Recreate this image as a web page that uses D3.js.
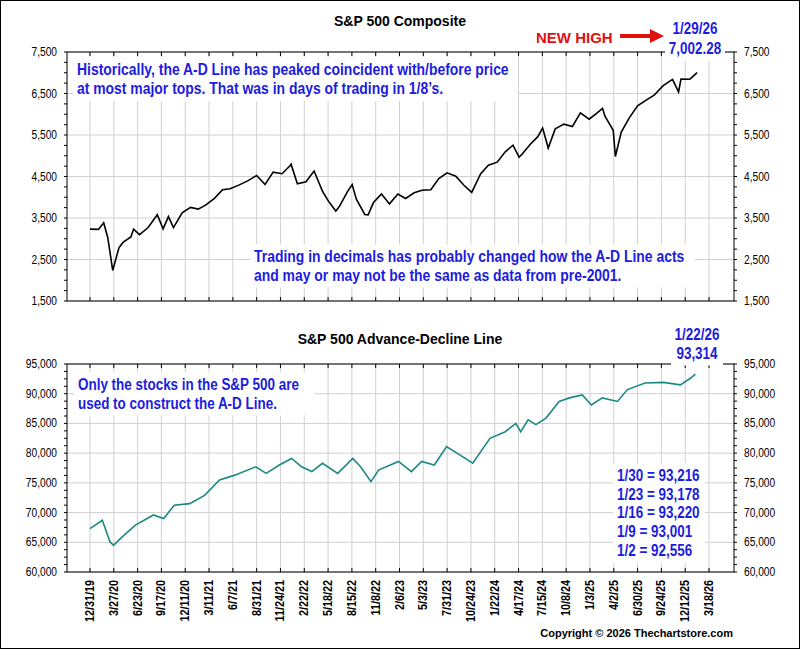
<!DOCTYPE html>
<html><head><meta charset="utf-8">
<script src="https://cdn.jsdelivr.net/npm/d3@7"></script>
<style>body{margin:0;background:#fff}svg{display:block}</style>
</head><body>
<script>
const spxDates=["2019-12-31","2020-01-31","2020-02-19","2020-03-05","2020-03-23","2020-04-15","2020-04-30","2020-05-29","2020-06-08","2020-06-30","2020-07-31","2020-09-02","2020-09-23","2020-10-12","2020-10-30","2020-11-30","2020-12-31","2021-01-29","2021-02-26","2021-03-31","2021-04-30","2021-05-28","2021-06-30","2021-07-30","2021-08-31","2021-09-30","2021-10-29","2021-11-30","2021-12-31","2022-01-03","2022-01-27","2022-02-28","2022-03-29","2022-04-29","2022-05-20","2022-06-16","2022-06-30","2022-07-29","2022-08-16","2022-08-31","2022-09-30","2022-10-12","2022-10-31","2022-11-30","2022-12-30","2023-01-31","2023-02-28","2023-03-31","2023-04-28","2023-05-31","2023-06-30","2023-07-31","2023-08-31","2023-09-29","2023-10-27","2023-11-30","2023-12-29","2024-01-31","2024-02-29","2024-03-28","2024-04-19","2024-04-30","2024-05-31","2024-06-28","2024-07-16","2024-08-05","2024-08-30","2024-09-30","2024-10-31","2024-11-29","2024-12-31","2025-01-31","2025-02-19","2025-02-28","2025-03-31","2025-04-08","2025-04-30","2025-05-30","2025-06-30","2025-07-31","2025-08-29","2025-09-30","2025-10-31","2025-11-20","2025-11-28","2025-12-31","2026-01-29"];
const spxValues=[3231,3226,3386,3024,2237,2783,2912,3044,3232,3100,3271,3580,3237,3534,3270,3622,3756,3714,3811,3973,4181,4204,4298,4395,4523,4307,4605,4567,4766,4796,4326,4374,4632,4132,3901,3667,3785,4130,4305,3955,3586,3577,3872,4080,3840,4077,3970,4109,4169,4180,4450,4589,4508,4288,4117,4568,4770,4846,5096,5254,4967,5036,5278,5460,5667,5186,5648,5762,5705,6032,5882,6041,6144,5955,5612,4982,5569,5912,6205,6339,6460,6688,6840,6538,6849,6845,7002];
const adDates=["2019-12-31","2020-02-14","2020-03-13","2020-03-26","2020-04-29","2020-06-15","2020-08-19","2020-09-25","2020-11-02","2020-12-28","2021-02-22","2021-04-19","2021-06-14","2021-08-28","2021-10-04","2021-11-20","2022-01-05","2022-02-12","2022-03-21","2022-04-28","2022-06-23","2022-08-18","2022-09-15","2022-10-22","2022-11-19","2023-02-02","2023-03-21","2023-04-27","2023-06-13","2023-07-29","2023-09-14","2023-10-31","2024-01-04","2024-02-29","2024-04-07","2024-04-25","2024-05-23","2024-06-21","2024-07-28","2024-09-13","2024-10-20","2024-12-06","2025-01-08","2025-02-18","2025-04-16","2025-05-23","2025-07-27","2025-10-01","2025-11-26","2026-01-02","2026-01-22"];
const adValues=[67300,68700,65100,64500,66000,67900,69600,69000,71250,71500,72900,75500,76300,77700,76600,78000,79100,77700,76900,78300,76600,79100,77700,75200,77150,78600,76900,78600,78000,81100,79700,78300,82500,83600,85000,83600,85600,84800,85900,88700,89300,89800,88100,89300,88700,90700,91800,91900,91500,92600,93314];
const tickLabels=["12/31/19","3/27/20","6/23/20","9/17/20","12/11/20","3/11/21","6/7/21","8/31/21","11/24/21","2/22/22","5/18/22","8/15/22","11/8/22","2/6/23","5/3/23","7/31/23","10/24/23","1/22/24","4/17/24","7/15/24","10/8/24","1/3/25","4/2/25","6/30/25","9/24/25","12/12/25","3/18/26"];
const spxTicks=[1500,2500,3500,4500,5500,6500,7500];
const adTicks=[60000,65000,70000,75000,80000,85000,90000,95000];
const adNotes=["1/30 = 93,216","1/23 = 93,178","1/16 = 93,220","1/9 = 93,001","1/2 = 92,556"];

const W=800,H=649,L=67,R=734;
const FONT="'Liberation Sans',Arial,sans-serif";
const svg=d3.select("body").append("svg").attr("width",W).attr("height",H).style("font-family",FONT);
svg.append("rect").attr("x",0.5).attr("y",0.5).attr("width",W-1).attr("height",H-1).attr("fill","#fff").attr("stroke","#000");
const pd=d3.timeParse("%Y-%m-%d"), pt=d3.timeParse("%m/%d/%y");
const tickDates=tickLabels.map(pt);
const x=d3.scaleLinear().domain([0,tickDates.length-1]).range([90,709]);
function xd(d){const t=+d;let i=0;while(i<tickDates.length-2&&t>+tickDates[i+1])i++;
 const a=+tickDates[i],b=+tickDates[i+1];return x(i+(t-a)/(b-a));}
function narrow(sel,f){sel.each(function(){const n=this.getComputedTextLength();this.setAttribute("textLength",n*f);this.setAttribute("lengthAdjust","spacingAndGlyphs");});}

function panel(top,bot,domain,ticks,minor,dates,vals,color,title,titleY){
 const y=d3.scaleLinear().domain(domain).range([bot,top]);
 const g=svg.append("g");
 g.selectAll(".hg").data(ticks).join("line").attr("x1",L).attr("x2",R).attr("y1",d=>y(d)).attr("y2",d=>y(d)).attr("stroke","#d0d0d0");
 g.selectAll(".vg").data(tickDates).join("line").attr("x1",d=>xd(d)).attr("x2",d=>xd(d)).attr("y1",top).attr("y2",bot).attr("stroke","#d0d0d0");
 g.append("rect").attr("x",L).attr("y",top).attr("width",R-L).attr("height",bot-top).attr("fill","none").attr("stroke","#000");
 const mt=d3.range(domain[0],domain[1]+1,minor);
 g.selectAll(".ml").data(mt).join("line").attr("x1",L-3).attr("x2",L).attr("y1",d=>y(d)).attr("y2",d=>y(d)).attr("stroke","#000");
 g.selectAll(".mr").data(mt).join("line").attr("x1",R).attr("x2",R+3).attr("y1",d=>y(d)).attr("y2",d=>y(d)).attr("stroke","#000");
 g.selectAll(".mx").data(tickDates).join("line").attr("x1",d=>xd(d)).attr("x2",d=>xd(d)).attr("y1",top).attr("y2",top+4).attr("stroke","#000");
 g.selectAll(".mxb").data(tickDates).join("line").attr("x1",d=>xd(d)).attr("x2",d=>xd(d)).attr("y1",bot).attr("y2",bot-4).attr("stroke","#000");
 narrow(g.selectAll(".tl").data(ticks).join("text").attr("x",L-10).attr("y",d=>y(d)+4).attr("text-anchor","end").attr("font-size",12).text(d=>d3.format(",")(d)),0.85);
 narrow(g.selectAll(".tr").data(ticks).join("text").attr("x",R+10).attr("y",d=>y(d)+4).attr("font-size",12).text(d=>d3.format(",")(d)),0.85);
 g.append("text").attr("x",400).attr("y",titleY).attr("text-anchor","middle").attr("font-size",14).attr("font-weight","bold").text(title);
 const line=d3.line().x((d,i)=>xd(pd(dates[i]))).y(d=>y(d));
 g.append("path").datum(vals).attr("d",line).attr("fill","none").attr("stroke",color).attr("stroke-width",1.6);
}
panel(52,301,[1500,7500],spxTicks,250,spxDates,spxValues,"#000","S&P 500 Composite",26);
panel(364,572,[60000,95000],adTicks,1250,adDates,adValues,"#1a8a80","S&P 500 Advance-Decline Line",344);

const blue="#1c1ce0";
function box(lines,x0,y0,lh,w,size,anchor,f){
 const h=lines.length*lh+6;
 svg.append("rect").attr("x",anchor==="middle"?x0-w/2:x0-4).attr("y",y0-lh+1).attr("width",w).attr("height",h).attr("fill","#fff");
 lines.forEach((t,i)=>narrow(svg.append("text").attr("x",x0).attr("y",y0+i*lh).attr("fill",blue).attr("font-size",size).attr("font-weight","bold").attr("text-anchor",anchor||"start").text(t),f||0.84));
}
box(["Historically, the A-D Line has peaked coincident with/before price","at most major tops.  That was in days of trading in 1/8\u2019s."],77,75,19,445,16,null,0.87);
box(["Trading in decimals has probably changed how the A-D Line acts","and may or may not be the same as data from pre-2001."],254,262,18.5,445,16,null,0.87);
box(["Only the stocks in the S&P 500 are","used to construct the A-D Line."],78,390,18.5,240,16);
box(adNotes,617,481,18.7,92,16);
box(["1/29/26","7,002.28"],695,34,20,60,16,"middle");
box(["1/22/26","93,314"],697,340,18.5,52,16,"middle");
svg.append("text").attr("x",536).attr("y",43).attr("fill","#e01010").attr("font-size",15).attr("font-weight","bold").text("NEW HIGH");
svg.append("line").attr("x1",620).attr("x2",652).attr("y1",36).attr("y2",36).attr("stroke","#e01010").attr("stroke-width",4);
svg.append("path").attr("d","M650,29 L664,36 L650,43 Z").attr("fill","#e01010");

narrow(svg.selectAll(".xl").data(tickDates).join("text")
 .attr("transform",(d,i)=>`translate(${xd(d)+4},580) rotate(-90)`).attr("text-anchor","end")
 .attr("font-size",12).attr("font-weight","bold").text((d,i)=>tickLabels[i]),0.9);
svg.append("text").attr("x",733).attr("y",637).attr("text-anchor","end").attr("font-size",11).attr("font-weight","bold").text("Copyright \u00a9 2026 Thechartstore.com");
</script>
</body></html>
